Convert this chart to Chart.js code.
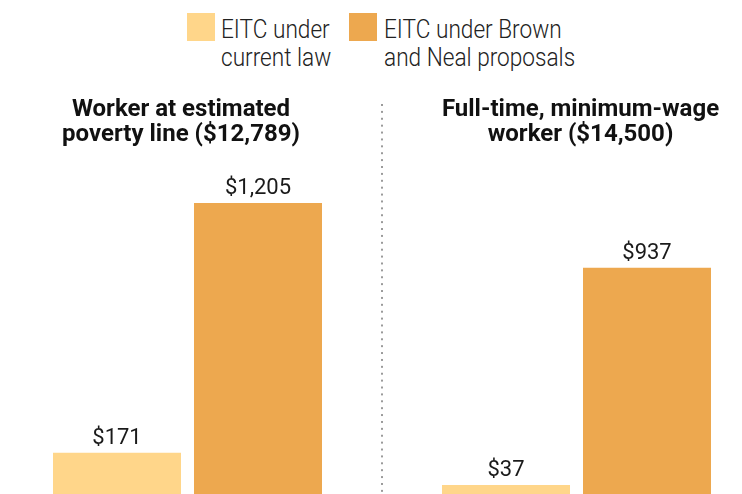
<!DOCTYPE html>
<html>
<head>
<meta charset="utf-8">
<script src="https://cdn.jsdelivr.net/npm/chart.js@4/dist/chart.umd.min.js"></script>
<style>
  html, body { margin: 0; padding: 0; background: #fff; }
  #wrap { position: relative; width: 742px; height: 494px; overflow: hidden; }
  canvas { position: absolute; top: 0; }
  .lg-box { position: absolute; top: 13px; width: 28px; height: 28px; }
  .lg-text { position: absolute; top: 15px; font-family: Roboto, sans-serif; font-weight: 300;
             font-size: 26px; line-height: 28.4px; color: #222; white-space: nowrap;
             transform: scaleX(0.87); transform-origin: 0 0; }
  #sep { position: absolute; left: 381px; top: 104px; width: 2px; height: 390px;
         background-image: linear-gradient(to bottom, #9a9a9a 0 2px, transparent 2px 100%);
         background-size: 2px 6.9px; }
</style>
</head>
<body>
<div id="wrap">
  <div id="legend"></div>
  <div id="sep"></div>
  <canvas id="c1" width="362" height="494" style="left:0px"></canvas>
  <canvas id="c2" width="321" height="494" style="left:420px"></canvas>
</div>
<script>
// ---- data ----
const panelTitles = [
  ["Worker at estimated", "poverty line ($12,789)"],
  ["Full-time, minimum-wage", "worker ($14,500)"]
];
const seriesNames = ["EITC under current law", "EITC under Brown and Neal proposals"];
const legendLines = [
  ["EITC under", "current law"],
  ["EITC under Brown", "and Neal proposals"]
];
const currentLaw = [171, 37];
const brownNeal = [1205, 937];
const seriesColors = ["#FFD68A", "#EDA84F"];
const yMax = 1400;

// ---- legend (HTML) ----
const legendBoxLeft = [187, 349];
const legendTextLeft = [221, 384];
const legend = document.getElementById('legend');
legendLines.forEach((lines, i) => {
  const b = document.createElement('div');
  b.className = 'lg-box';
  b.style.left = legendBoxLeft[i] + 'px';
  b.style.background = seriesColors[i];
  b.title = seriesNames[i];
  legend.appendChild(b);
  const t = document.createElement('div');
  t.className = 'lg-text';
  t.style.left = legendTextLeft[i] + 'px';
  t.innerHTML = lines.join('<br>');
  legend.appendChild(t);
});

// ---- value labels plugin ----
const valueLabels = {
  id: 'valueLabels',
  afterDatasetsDraw(chart) {
    const ctx = chart.ctx;
    ctx.save();
    ctx.font = '22px Roboto';
    ctx.fillStyle = '#1a1a1a';
    ctx.textAlign = 'center';
    ctx.textBaseline = 'alphabetic';
    chart.data.datasets.forEach((ds, di) => {
      chart.getDatasetMeta(di).data.forEach((bar, j) => {
        ctx.fillText('$' + ds.data[j].toLocaleString('en-US'), bar.x, bar.y - 9);
      });
    });
    ctx.restore();
  }
};

function makeChart(id, idx, axisWidth, axisPos, catPct) {
  return new Chart(document.getElementById(id), {
    type: 'bar',
    data: {
      labels: [panelTitles[idx].join(' ')],
      datasets: [
        { label: seriesNames[0], data: [currentLaw[idx]], backgroundColor: seriesColors[0] },
        { label: seriesNames[1], data: [brownNeal[idx]], backgroundColor: seriesColors[1] }
      ]
    },
    options: {
      responsive: false,
      devicePixelRatio: 1,
      animation: false,
      datasets: { bar: { categoryPercentage: catPct, barPercentage: 0.9078 } },
      layout: { padding: 0 },
      plugins: {
        legend: { display: false },
        tooltip: { enabled: false },
        title: {
          display: true,
          text: panelTitles[idx],
          color: '#111',
          font: { family: 'Roboto, sans-serif', weight: 'bold', size: 24, lineHeight: 25 / 24 },
          padding: { top: 97, bottom: 9 }
        }
      },
      scales: {
        x: { display: false },
        y: {
          display: true,
          position: axisPos,
          min: 0, max: yMax,
          ticks: { display: false },
          grid: { display: false },
          border: { display: false },
          afterFit(s) { s.width = axisWidth; }
        }
      }
    },
    plugins: [valueLabels]
  });
}

makeChart('c1', 0, 13, 'left', 0.808);
makeChart('c2', 1, 8, 'right', 0.901);
</script>
</body>
</html>
